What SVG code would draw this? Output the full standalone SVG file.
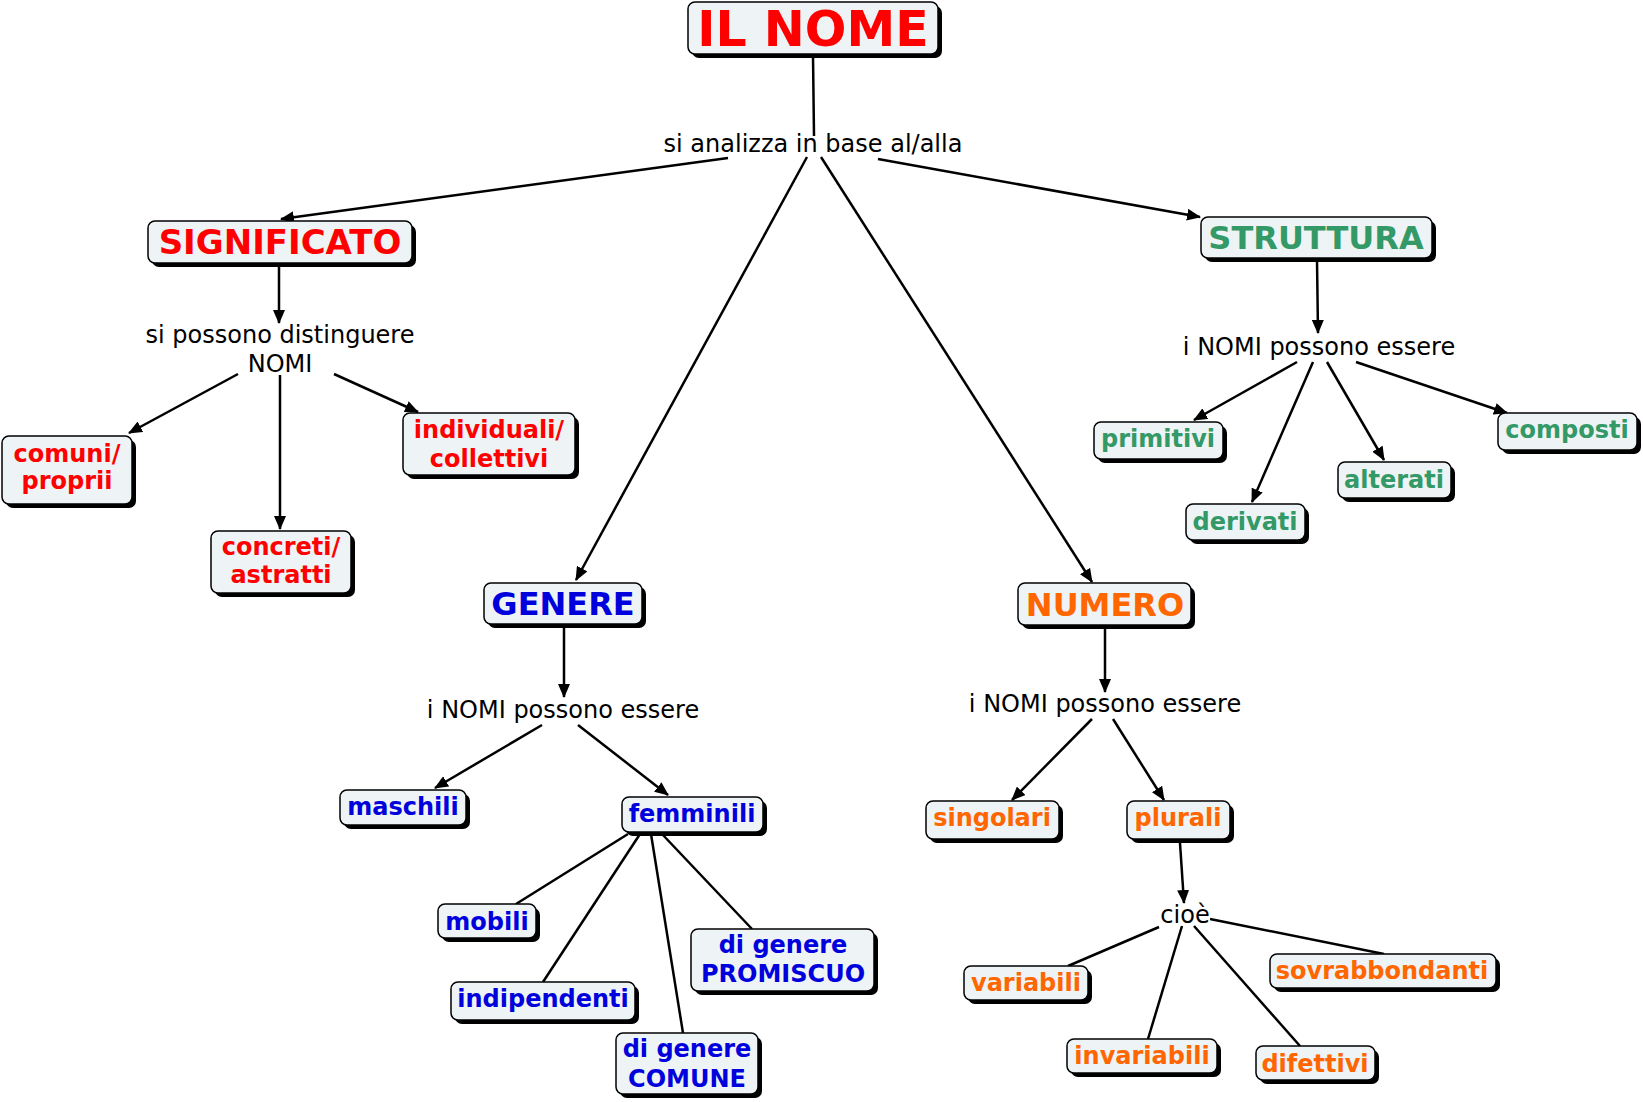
<svg xmlns="http://www.w3.org/2000/svg" width="1643" height="1102" viewBox="0 0 1643 1102">
<style>
.sh{fill:#000}
.bx{fill:#EEF3F5;stroke:#000;stroke-width:1.5}
.t{font-family:"DejaVu Sans",Verdana,sans-serif;font-weight:bold;font-size:24px;text-anchor:middle}
.big{font-size:32px}
.lab{font-family:"DejaVu Sans",Verdana,sans-serif;font-size:24px;text-anchor:middle;fill:#000}
.r{fill:#FF0000}.b{fill:#0000DD}.g{fill:#339966}.o{fill:#FF6600}
.c line{stroke:#000;stroke-width:2.5}
.a{marker-end:url(#ah)}
</style>
<defs>
<marker id="ah" markerUnits="userSpaceOnUse" markerWidth="14" markerHeight="12" refX="13" refY="6" orient="auto" viewBox="0 0 14 12">
<path d="M0,0 L14,6 L0,12 z" fill="#000"/>
</marker>
</defs>
<rect width="1643" height="1102" fill="#fff"/>
<g class="c" id="connectors">
<line x1="813" y1="56" x2="814" y2="136"/>
<line class="a" x1="728" y1="158" x2="281" y2="219"/>
<line class="a" x1="807" y1="157" x2="576" y2="580"/>
<line class="a" x1="821" y1="157" x2="1092" y2="582"/>
<line class="a" x1="878" y1="159" x2="1200" y2="217"/>
<line class="a" x1="279" y1="265" x2="279" y2="323"/>
<line class="a" x1="238" y1="374" x2="129" y2="433"/>
<line class="a" x1="280" y1="375" x2="280" y2="529"/>
<line class="a" x1="334" y1="374" x2="418" y2="412"/>
<line class="a" x1="1317" y1="260" x2="1318" y2="333"/>
<line class="a" x1="1297" y1="362" x2="1194" y2="420"/>
<line class="a" x1="1313" y1="362" x2="1252" y2="502"/>
<line class="a" x1="1327" y1="362" x2="1384" y2="460"/>
<line class="a" x1="1356" y1="362" x2="1507" y2="413"/>
<line class="a" x1="564" y1="627" x2="564" y2="697"/>
<line class="a" x1="542" y1="725" x2="435" y2="788"/>
<line class="a" x1="578" y1="725" x2="668" y2="795"/>
<line x1="628" y1="834" x2="516" y2="904"/>
<line x1="640" y1="834" x2="543" y2="982"/>
<line x1="651" y1="834" x2="683" y2="1033"/>
<line x1="662" y1="834" x2="752" y2="929"/>
<line class="a" x1="1105" y1="628" x2="1105" y2="692"/>
<line class="a" x1="1092" y1="719" x2="1012" y2="800"/>
<line class="a" x1="1113" y1="719" x2="1164" y2="800"/>
<line class="a" x1="1180" y1="843" x2="1184" y2="903"/>
<line x1="1159" y1="927" x2="1068" y2="966"/>
<line x1="1182" y1="926" x2="1148" y2="1039"/>
<line x1="1194" y1="926" x2="1300" y2="1046"/>
<line x1="1210" y1="919" x2="1384" y2="954"/>
</g>
<g id="lab1"><text class="lab" x="813" y="152">si analizza in base al/alla</text></g>
<g id="lab2"><text class="lab" x="280" y="343">si possono distinguere</text><text class="lab" x="280" y="372">NOMI</text></g>
<g id="lab3"><text class="lab" x="1319" y="355">i NOMI possono essere</text></g>
<g id="lab4"><text class="lab" x="563" y="718">i NOMI possono essere</text></g>
<g id="lab5"><text class="lab" x="1105" y="712">i NOMI possono essere</text></g>
<g id="lab6"><text class="lab" x="1185" y="923">cioè</text></g>

<g id="ilnome"><rect class="sh" x="692" y="6" width="250" height="52" rx="7"/><rect class="bx" x="688" y="2" width="250" height="52" rx="7"/><text class="t r" x="813" y="46" style="font-size:49px">IL NOME</text></g>

<g id="significato"><rect class="sh" x="152" y="225" width="264" height="42" rx="7"/><rect class="bx" x="148" y="221" width="264" height="42" rx="7"/><text class="t big r" x="280" y="254" style="font-size:34px">SIGNIFICATO</text></g>
<g id="comuni"><rect class="sh" x="6" y="440" width="130" height="68" rx="7"/><rect class="bx" x="2" y="436" width="130" height="68" rx="7"/><text class="t r" x="67" y="462">comuni/</text><text class="t r" x="67" y="489">proprii</text></g>
<g id="concreti"><rect class="sh" x="215" y="535" width="140" height="62" rx="7"/><rect class="bx" x="211" y="531" width="140" height="62" rx="7"/><text class="t r" x="281" y="555">concreti/</text><text class="t r" x="281" y="583">astratti</text></g>
<g id="individuali"><rect class="sh" x="407" y="417" width="172" height="62" rx="7"/><rect class="bx" x="403" y="413" width="172" height="62" rx="7"/><text class="t r" x="489" y="438">individuali/</text><text class="t r" x="489" y="467">collettivi</text></g>

<g id="struttura"><rect class="sh" x="1205" y="221" width="231" height="41" rx="7"/><rect class="bx" x="1201" y="217" width="231" height="41" rx="7"/><text class="t big g" x="1316" y="249">STRUTTURA</text></g>
<g id="primitivi"><rect class="sh" x="1098" y="426" width="129" height="37" rx="7"/><rect class="bx" x="1094" y="422" width="129" height="37" rx="7"/><text class="t g" x="1158" y="447">primitivi</text></g>
<g id="derivati"><rect class="sh" x="1190" y="508" width="119" height="36" rx="7"/><rect class="bx" x="1186" y="504" width="119" height="36" rx="7"/><text class="t g" x="1245" y="530">derivati</text></g>
<g id="alterati"><rect class="sh" x="1342" y="466" width="113" height="36" rx="7"/><rect class="bx" x="1338" y="462" width="113" height="36" rx="7"/><text class="t g" x="1394" y="488">alterati</text></g>
<g id="composti"><rect class="sh" x="1502" y="417" width="139" height="37" rx="7"/><rect class="bx" x="1498" y="413" width="139" height="37" rx="7"/><text class="t g" x="1567" y="438">composti</text></g>

<g id="genere"><rect class="sh" x="488" y="587" width="158" height="41" rx="7"/><rect class="bx" x="484" y="583" width="158" height="41" rx="7"/><text class="t big b" x="563" y="615">GENERE</text></g>
<g id="maschili"><rect class="sh" x="344" y="794" width="126" height="35" rx="7"/><rect class="bx" x="340" y="790" width="126" height="35" rx="7"/><text class="t b" x="403" y="815">maschili</text></g>
<g id="femminili"><rect class="sh" x="626" y="801" width="141" height="35" rx="7"/><rect class="bx" x="622" y="797" width="141" height="35" rx="7"/><text class="t b" x="692" y="822">femminili</text></g>
<g id="mobili"><rect class="sh" x="442" y="908" width="98" height="34" rx="7"/><rect class="bx" x="438" y="904" width="98" height="34" rx="7"/><text class="t b" x="487" y="930">mobili</text></g>
<g id="indipendenti"><rect class="sh" x="455" y="986" width="184" height="38" rx="7"/><rect class="bx" x="451" y="982" width="184" height="38" rx="7"/><text class="t b" x="543" y="1007">indipendenti</text></g>
<g id="promiscuo"><rect class="sh" x="695" y="933" width="183" height="62" rx="7"/><rect class="bx" x="691" y="929" width="183" height="62" rx="7"/><text class="t b" x="783" y="953">di genere</text><text class="t b" x="783" y="982">PROMISCUO</text></g>
<g id="comune"><rect class="sh" x="620" y="1037" width="142" height="61" rx="7"/><rect class="bx" x="616" y="1033" width="142" height="61" rx="7"/><text class="t b" x="687" y="1057">di genere</text><text class="t b" x="687" y="1087">COMUNE</text></g>

<g id="numero"><rect class="sh" x="1022" y="587" width="173" height="42" rx="7"/><rect class="bx" x="1018" y="583" width="173" height="42" rx="7"/><text class="t big o" x="1105" y="616">NUMERO</text></g>
<g id="singolari"><rect class="sh" x="930" y="805" width="133" height="38" rx="7"/><rect class="bx" x="926" y="801" width="133" height="38" rx="7"/><text class="t o" x="992" y="826">singolari</text></g>
<g id="plurali"><rect class="sh" x="1131" y="805" width="103" height="38" rx="7"/><rect class="bx" x="1127" y="801" width="103" height="38" rx="7"/><text class="t o" x="1178" y="826">plurali</text></g>
<g id="variabili"><rect class="sh" x="968" y="970" width="124" height="34" rx="7"/><rect class="bx" x="964" y="966" width="124" height="34" rx="7"/><text class="t o" x="1026" y="991">variabili</text></g>
<g id="invariabili"><rect class="sh" x="1071" y="1043" width="150" height="34" rx="7"/><rect class="bx" x="1067" y="1039" width="150" height="34" rx="7"/><text class="t o" x="1142" y="1064">invariabili</text></g>
<g id="difettivi"><rect class="sh" x="1260" y="1050" width="119" height="34" rx="7"/><rect class="bx" x="1256" y="1046" width="119" height="34" rx="7"/><text class="t o" x="1315" y="1072">difettivi</text></g>
<g id="sovrabbondanti"><rect class="sh" x="1274" y="958" width="226" height="34" rx="7"/><rect class="bx" x="1270" y="954" width="226" height="34" rx="7"/><text class="t o" x="1382" y="979">sovrabbondanti</text></g>
</svg>
